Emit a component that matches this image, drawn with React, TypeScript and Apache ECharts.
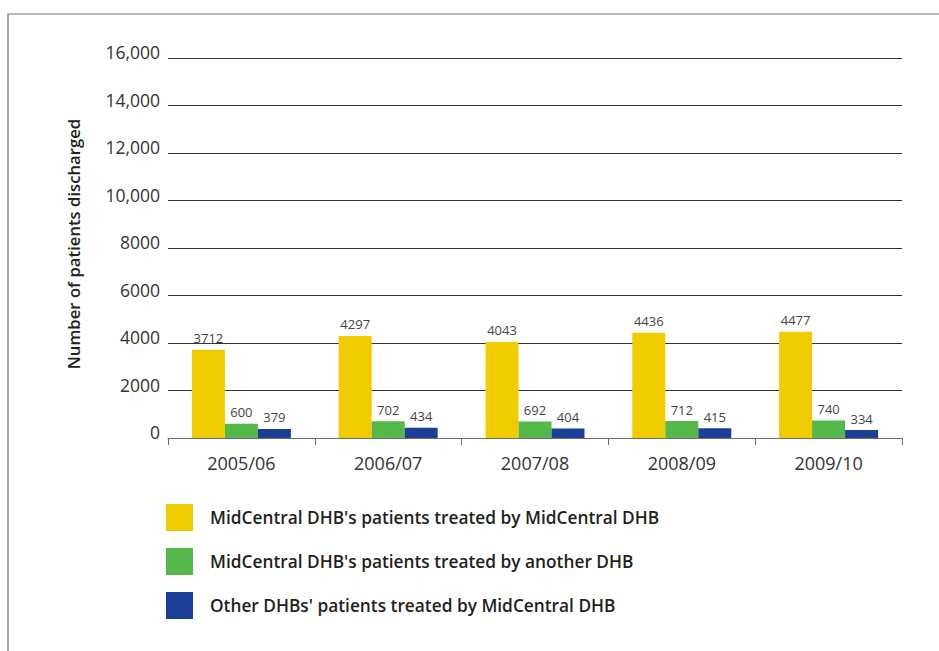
import React, { useEffect, useRef } from "react";
import * as echarts from "echarts";

const categories = ["2005/06", "2006/07", "2007/08", "2008/09", "2009/10"];
const seriesNames = [
  "MidCentral DHB's patients treated by MidCentral DHB",
  "MidCentral DHB's patients treated by another DHB",
  "Other DHBs' patients treated by MidCentral DHB",
];
const ownTreatedOwn = [3712, 4297, 4043, 4436, 4477];
const ownTreatedOther = [600, 702, 692, 712, 740];
const otherTreatedOwn = [379, 434, 404, 415, 334];
const colors = ["#f0cb00", "#55b84a", "#1b3f96"];
const yMin = 0;
const yMax = 16000;
const yInterval = 2000;

const fontFamily = "'Open Sans', 'Noto Sans', sans-serif";

export default function App() {
  const ref = useRef<HTMLDivElement>(null);
  useEffect(() => {
    if (!ref.current) return;
    const chart = echarts.init(ref.current, null, { renderer: "svg" });
    const values = [ownTreatedOwn, ownTreatedOther, otherTreatedOwn];
    chart.setOption({
      animation: false,
      backgroundColor: "#ffffff",
      textStyle: { fontFamily },
      grid: { left: 168, right: 37, top: 58, bottom: 213, containLabel: false },
      graphic: [
        { type: "line", shape: { x1: 7, y1: 14, x2: 939, y2: 14 }, style: { stroke: "#bdb9af", lineWidth: 2 } },
        { type: "line", shape: { x1: 8, y1: 14, x2: 8, y2: 651 }, style: { stroke: "#a8a39b", lineWidth: 2 } },
      ],
      legend: {
        orient: "vertical",
        left: 161,
        top: 499,
        itemWidth: 27,
        itemHeight: 27,
        itemGap: 17,
        icon: "rect",
        data: seriesNames,
        textStyle: {
          fontFamily,
          fontSize: 17.3,
          fontWeight: 600,
          color: "#231f20",
          padding: [0, 0, 0, 12],
        },
      },
      xAxis: {
        type: "category",
        data: categories,
        axisLine: { lineStyle: { color: "#6d6d6d", width: 1 } },
        axisTick: { show: true, length: 7, lineStyle: { color: "#6d6d6d" } },
        axisLabel: { fontFamily, fontSize: 18, color: "#333", margin: 16 },
      },
      yAxis: {
        type: "value",
        min: yMin,
        max: yMax,
        interval: yInterval,
        name: "Number of patients discharged",
        nameLocation: "middle",
        nameGap: 86,
        nameTextStyle: { fontFamily, fontSize: 16.7, fontWeight: 600, color: "#231f20", padding: [0, 0, 0, 8] },
        axisLine: { show: false },
        axisTick: { show: false },
        splitLine: { lineStyle: { color: "#333", width: 1 } },
        axisLabel: {
          fontFamily,
          fontSize: 17.5,
          color: "#333",
          margin: 8,
          verticalAlign: "bottom",
          lineHeight: 12,
          formatter: (v: number) => (v >= 10000 ? v.toLocaleString("en-US") : String(v)),
        },
      },
      series: seriesNames.map((name, i) => ({
        name,
        type: "bar",
        data: values[i],
        barWidth: 33,
        barGap: "0%",
        itemStyle: { color: colors[i] },
        label: {
          show: true,
          position: "top",
          distance: 5,
          fontFamily,
          fontSize: 13,
          color: "#444",
        },
      })),
    });
    return () => chart.dispose();
  }, []);
  return (
    <div
      ref={ref}
      style={{ position: "fixed", left: 0, top: 0, width: 939, height: 651 }}
    />
  );
}
